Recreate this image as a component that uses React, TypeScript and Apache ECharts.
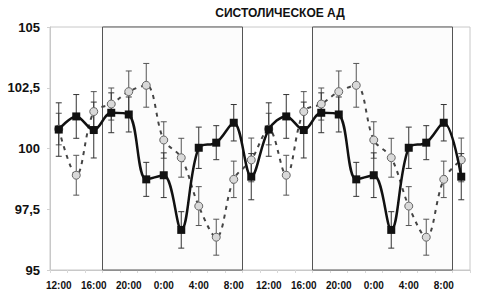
import React, { useEffect, useRef } from "react";
import * as echarts from "echarts";

const TITLE = "СИСТОЛИЧЕСКОЕ АД";

const times = [
  "12:00", "14:00", "16:00", "18:00", "20:00", "22:00", "0:00", "2:00", "4:00", "6:00", "8:00", "10:00",
  "12:00", "14:00", "16:00", "18:00", "20:00", "22:00", "0:00", "2:00", "4:00", "6:00", "8:00", "10:00",
];

const squareValues = [
  100.78, 101.32, 100.76, 101.47, 101.4, 98.73, 98.9, 96.65, 100.03, 100.24, 101.06, 98.84,
  100.78, 101.32, 100.76, 101.47, 101.4, 98.73, 98.9, 96.65, 100.03, 100.24, 101.06, 98.84,
];
const squareErr = [
  1.1, 0.9, 1.15, 0.82, 0.72, 0.7, 0.92, 0.75, 0.85, 0.7, 0.75, 0.95,
  1.1, 0.9, 1.15, 0.82, 0.72, 0.7, 0.92, 0.75, 0.85, 0.7, 0.75, 0.95,
];

const circleValues = [
  100.8, 98.9, 101.52, 101.83, 102.34, 102.6, 100.35, 99.62, 97.63, 96.35, 98.73, 99.53,
  100.8, 98.9, 101.52, 101.83, 102.34, 102.6, 100.35, 99.62, 97.63, 96.35, 98.73, 99.53,
];
const circleErr = [
  0.65, 0.82, 0.82, 0.66, 0.85, 0.9, 0.75, 0.8, 0.8, 0.74, 0.75, 0.9,
  0.65, 0.82, 0.82, 0.66, 0.85, 0.9, 0.75, 0.8, 0.8, 0.74, 0.75, 0.9,
];

// shaded night periods, in hours after 11:00 of day 1 (17:00 -> 9:00)
const nightStart = [6, 30];
const nightEnd = [22, 46];

const yTicks = [95, 97.5, 100, 102.5, 105];

const FONT = "'Liberation Sans', Arial, sans-serif";

function errorBarSeries(values: number[], errs: number[], color: string, z: number) {
  return {
    type: "custom",
    xAxisIndex: 0,
    yAxisIndex: 0,
    z,
    silent: true,
    data: values.map((v, i) => [i, v - errs[i], v + errs[i]]),
    encode: { x: 0, y: [1, 2] },
    renderItem: (params: any, api: any) => {
      const i = api.value(0);
      const lo = api.coord([i, api.value(1)]);
      const hi = api.coord([i, api.value(2)]);
      const w = 3;
      const style = { stroke: color, lineWidth: 1 };
      return {
        type: "group",
        children: [
          { type: "line", shape: { x1: lo[0], y1: lo[1], x2: hi[0], y2: hi[1] }, style },
          { type: "line", shape: { x1: hi[0] - w, y1: hi[1], x2: hi[0] + w, y2: hi[1] }, style },
          { type: "line", shape: { x1: lo[0] - w, y1: lo[1], x2: lo[0] + w, y2: lo[1] }, style },
        ],
      };
    },
  };
}

export default function App() {
  const ref = useRef<HTMLDivElement>(null);
  useEffect(() => {
    if (!ref.current) return;
    const chart = echarts.init(ref.current, undefined, { renderer: "svg" });
    chart.setOption({
      animation: false,
      textStyle: { fontFamily: FONT },
      title: {
        text: TITLE,
        left: 280,
        top: 7,
        textAlign: "center",
        padding: 0,
        textStyle: { fontSize: 12, fontWeight: "bold", color: "#111", fontFamily: FONT },
      },
      grid: {
        left: 50,
        right: 32,
        top: 27,
        bottom: 33,
        show: true,
        borderColor: "#c8c8c8",
        borderWidth: 1,
        backgroundColor: "transparent",
      },
      xAxis: [
        {
          type: "category",
          data: times,
          boundaryGap: true,
          axisLine: { lineStyle: { color: "#c8c8c8" } },
          axisTick: { show: true, interval: 0, length: 3, lineStyle: { color: "#d8d8d8" } },
          axisLabel: {
            interval: 1,
            margin: 10,
            fontSize: 10,
            fontWeight: "bold",
            color: "#111",
            fontFamily: FONT,
          },
          splitLine: { show: false },
        },
        {
          type: "value",
          min: 0,
          max: 48,
          show: false,
          splitLine: { show: false },
        },
      ],
      yAxis: {
        type: "value",
        min: 95,
        max: 105,
        interval: 2.5,
        axisLine: { show: true, lineStyle: { color: "#c8c8c8" } },
        axisTick: { show: true, length: 3, lineStyle: { color: "#d0d0d0" } },
        splitLine: { show: false },
        axisLabel: {
          margin: 10,
          fontSize: 13,
          fontWeight: "bold",
          color: "#111",
          fontFamily: FONT,
          formatter: (v: number) => {
            const t = yTicks.find((x) => Math.abs(x - v) < 1e-6);
            return t === undefined ? "" : String(t).replace(".", ",");
          },
        },
      },
      series: [
        {
          type: "custom",
          xAxisIndex: 1,
          yAxisIndex: 0,
          z: 1,
          silent: true,
          data: nightStart.map((s, i) => [s, nightEnd[i]]),
          encode: { x: [0, 1] },
          renderItem: (params: any, api: any) => {
            const p0 = api.coord([api.value(0), 105]);
            const p1 = api.coord([api.value(1), 95]);
            return {
              type: "rect",
              shape: { x: p0[0], y: p0[1], width: p1[0] - p0[0], height: p1[1] - p0[1] },
              style: { fill: "#fcfcfc", stroke: "#555", lineWidth: 1 },
            };
          },
        },
        errorBarSeries(circleValues, circleErr, "#555", 3),
        errorBarSeries(squareValues, squareErr, "#333", 4),
        {
          type: "line",
          name: "circles",
          data: circleValues,
          smooth: 0.35,
          z: 5,
          symbol: "circle",
          symbolSize: 8,
          lineStyle: { color: "#444", width: 2, type: [4, 5] },
          itemStyle: { color: "#d9d9d9", borderColor: "#666", borderWidth: 1 },
        },
        {
          type: "line",
          name: "squares",
          data: squareValues,
          smooth: 0.35,
          z: 6,
          symbol: "rect",
          symbolSize: 8,
          lineStyle: { color: "#111", width: 2.5 },
          itemStyle: { color: "#111", borderColor: "#111", borderWidth: 0 },
        },
      ],
    });
    return () => chart.dispose();
  }, []);
  return (
    <div
      ref={ref}
      style={{ position: "fixed", left: 0, top: 0, width: 502, height: 303, background: "#fff" }}
    />
  );
}
